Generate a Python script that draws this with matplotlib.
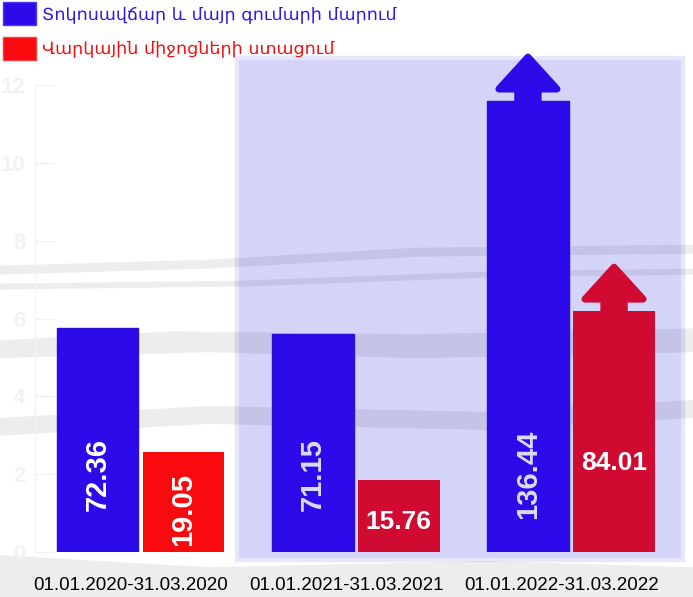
import numpy as np
import matplotlib.pyplot as plt
from matplotlib.patches import Rectangle, FancyArrow, Polygon

# ============================================================================
periods = ["01.01.2020-31.03.2020", "01.01.2021-31.03.2021", "01.01.2022-31.03.2022"]
legend_names = ["Տոկոսավճար և մայր գումարի մարում", "Վարկային միջոցների ստացում"]
# bar heights as drawn on the 0-12 axis, and the labels printed on them
blue_heights = [5.76, 5.60, 11.60]
red_heights = [2.57, 1.85, 6.20]
blue_labels = ["72.36", "71.15", "136.44"]
red_labels = ["19.05", "15.76", "84.01"]
arrow_on = [False, False, True]

BLUE = "#2c0aea"
RED1 = "#f80a0f"
RED2 = "#d00a30"

plt.rcParams['font.family'] = ['Liberation Sans', 'DejaVu Sans']

fig = plt.figure(figsize=(6.93, 5.97), dpi=100)
ax = fig.add_axes([0.0505, 0.0754, 0.935, 0.782])
ax.set_zorder(2)

# shaded panel behind the last two groups
fig.add_artist(Rectangle((0.342, 0.062), 0.6436, 0.841, transform=fig.transFigure,
                         facecolor="#d4d3f8", edgecolor="#e6e6fc", lw=3, zorder=0))

# faint sketchy texture of the background picture (decoration only)
streaks = [
    [(0, 0.555), (0.3, 0.565), (0.6, 0.585), (1, 0.59), (1, 0.575), (0.6, 0.57), (0.3, 0.55), (0, 0.54)],
    [(0, 0.525), (0.35, 0.53), (0.7, 0.545), (1, 0.55), (1, 0.54), (0.7, 0.535), (0.35, 0.52), (0, 0.515)],
    [(0, 0.43), (0.25, 0.445), (0.6, 0.44), (1, 0.45), (1, 0.41), (0.6, 0.40), (0.3, 0.41), (0, 0.40)],
    [(0, 0.30), (0.3, 0.32), (0.7, 0.31), (1, 0.33), (1, 0.30), (0.7, 0.28), (0.3, 0.29), (0, 0.27)],
    [(0, 0.07), (0.3, 0.05), (0.7, 0.06), (1, 0.05), (1, 0.0), (0, 0.0)],
]
for pts in streaks:
    fig.add_artist(Polygon(pts, closed=True, transform=fig.transFigure, facecolor="black",
                           alpha=0.07, lw=0, zorder=1))

x = np.arange(len(periods))
w = 0.38
reds = [RED1, RED2, RED2]
lab_col = ["white", "#dcdcf8", "#dcdcf8"]

ax.bar(x - 0.2, blue_heights, w, color=BLUE, edgecolor="#2a12d4", lw=1, zorder=3)
ax.bar(x + 0.2, red_heights, w, color=reds, zorder=3)

for i in range(len(x)):
    hb = blue_heights[i]
    hr = red_heights[i]
    if arrow_on[i]:
        for xc, h, c in [(x[i] - 0.2, hb, BLUE), (x[i] + 0.2, hr, RED2)]:
            ax.add_patch(FancyArrow(xc, h - 0.5, 0, 1.62, width=0.095, head_width=0.27,
                                    head_length=0.82, length_includes_head=True,
                                    color=c, lw=5, joinstyle="round", capstyle="round",
                                    clip_on=False, zorder=4))
    ax.text(x[i] - 0.2, min(hb * 0.42, 2.0), blue_labels[i], rotation=90, ha="center",
            va="center", color=lab_col[i], fontsize=21, fontweight="bold", zorder=5)
    if i == 0:
        ax.text(x[i] + 0.2, min(hr * 0.42, 2.3), red_labels[i], rotation=90, ha="center",
                va="center", color="white", fontsize=21, fontweight="bold", zorder=5)
    else:
        ax.text(x[i] + 0.2, min(hr * 0.42, 2.3), red_labels[i], ha="center",
                va="center", color="white", fontsize=19, fontweight="bold", zorder=5)

ax.set_xlim(-0.49, 2.52)
ax.set_ylim(0, 12)
ax.set_yticks(range(0, 13, 2))
# category labels sit a little left of the bar pairs
ax.set_xticks(x - 0.045)
ax.set_xticklabels(periods, fontsize=13.5)
ax.tick_params(axis="x", length=0, pad=18)
ax.tick_params(axis="y", direction="in", length=14, color="#f4eeee", labelcolor="#f2f2f2",
               labelsize=16, pad=7)
for t in ax.get_yticklabels():
    t.set_fontweight("bold")
for s in ["top", "right", "bottom"]:
    ax.spines[s].set_visible(False)
ax.spines["left"].set_color("#f2f2f2")
ax.patch.set_alpha(0)

# legend
fig.add_artist(Rectangle((3 / 693, 1 - 25 / 597), 33 / 693, 23 / 597, transform=fig.transFigure,
                         facecolor=BLUE, edgecolor="#4a3af0", lw=1))
fig.add_artist(Rectangle((3 / 693, 1 - 60 / 597), 33 / 693, 23 / 597, transform=fig.transFigure,
                         facecolor=RED1, edgecolor="#f84040", lw=1))
fig.text(42 / 693, 1 - 14 / 597, legend_names[0], color="#2c1ae8", fontsize=12.6,
         va="center", family=["DejaVu Sans"])
fig.text(42 / 693, 1 - 48 / 597, legend_names[1], color="#f01010", fontsize=12.6,
         va="center", family=["DejaVu Sans"])

fig.savefig("out.png", dpi=100)
